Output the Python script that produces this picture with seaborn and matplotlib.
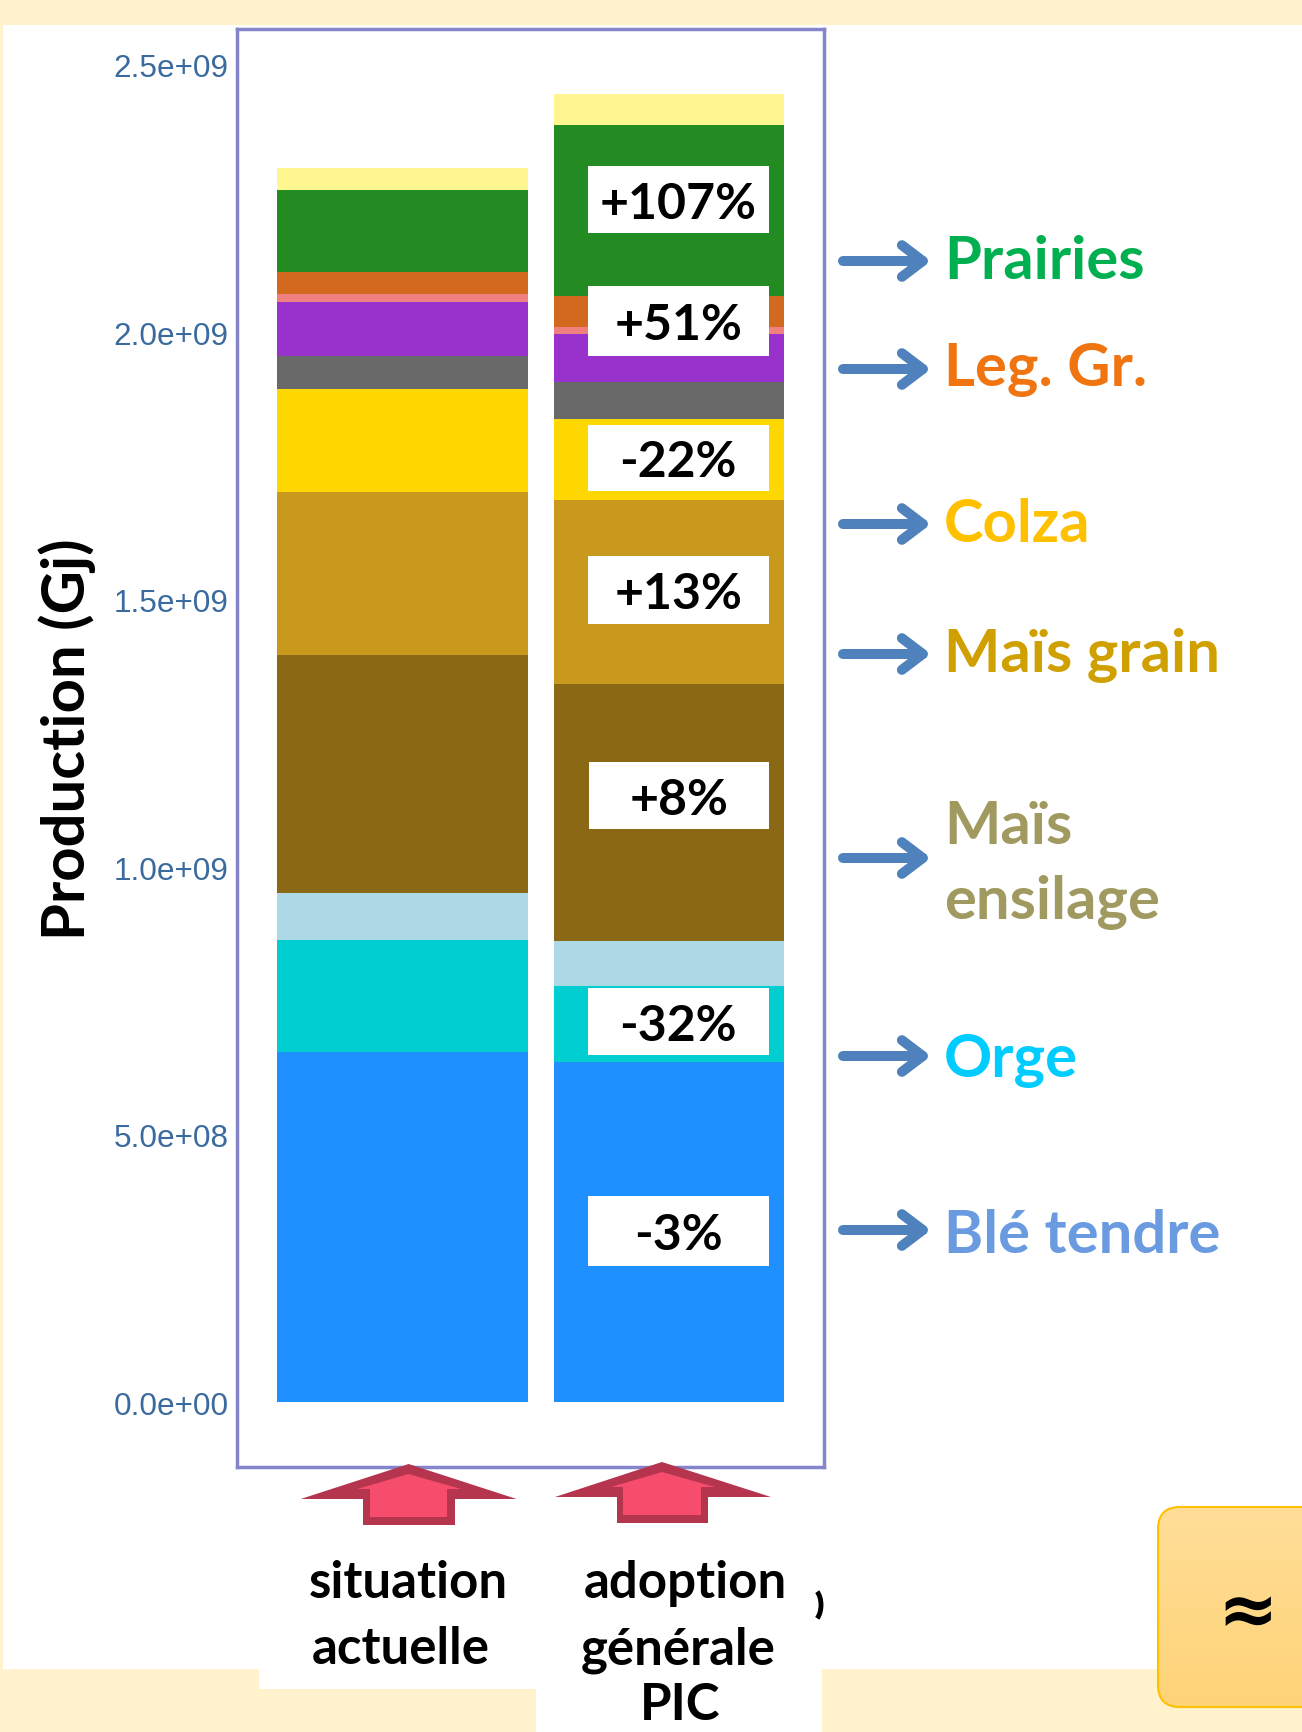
import matplotlib
matplotlib.use("Agg")
import matplotlib.pyplot as plt
from matplotlib.patches import Rectangle, Polygon, FancyBboxPatch, Arc
import numpy as np
import pandas as pd
import seaborn as sns

W, H = 1302, 1733

# cultures, du bas vers le haut de la pile
cultures = ["Blé tendre", "Orge", "Autres céréales", "Maïs ensilage", "Maïs grain", "Colza",
            "Autres oléagineux", "Betterave", "Autres", "Leg. Gr.", "Prairies", "Divers"]
situation_actuelle = [0.655e9, 0.209e9, 0.087e9, 0.446e9, 0.305e9, 0.191e9,
                      0.063e9, 0.101e9, 0.015e9, 0.040e9, 0.154e9, 0.040e9]
adoption_pic = [0.635e9, 0.142e9, 0.085e9, 0.481e9, 0.343e9, 0.151e9,
                0.070e9, 0.089e9, 0.014e9, 0.057e9, 0.321e9, 0.058e9]
couleurs = ["#1E90FF", "#00CED1", "#ADD8E6", "#8B6914", "#C9991E", "#FFD700",
            "#696969", "#9932CC", "#F08080", "#D2691E", "#228B22", "#FFF68F"]

ytick_vals = [0, 0.5e9, 1.0e9, 1.5e9, 2.0e9, 2.5e9]
ytick_labels = ["0.0e+00", "5.0e+08", "1.0e+09", "1.5e+09", "2.0e+09", "2.5e+09"]

etiquettes_pct = ["+107%", "+51%", "-22%", "+13%", "+8%", "-32%", "-3%"]
noms_droite = ["Prairies", "Leg. Gr.", "Colza", "Maïs grain", "Maïs\nensilage", "Orge", "Blé tendre"]
couleurs_droite = ["#00B050", "#F07410", "#FFC000", "#D0A000", "#A09A60", "#00CCFF", "#6A9AE0"]

sns.set_theme(style="white")
plt.rcParams["font.family"] = ["Lato", "DejaVu Sans"]

fig = plt.figure(figsize=(W / 100, H / 100), dpi=100, facecolor="#FFF2CC")

def axes_px(x0, y0, x1, y1, **kw):
    return fig.add_axes([x0 / W, 1 - y1 / H, (x1 - x0) / W, (y1 - y0) / H], **kw)

# fond blanc
bg = axes_px(0, 0, W, H, zorder=0)
bg.set_xlim(0, W)
bg.set_ylim(H, 0)
bg.axis("off")
bg.add_patch(Rectangle((3, 26), W - 3, 1644, color="white", lw=0))
bg.add_patch(Rectangle((259, 1600), 277, 90, color="white", lw=0))
bg.add_patch(Rectangle((536, 1600), 286, 133, color="white", lw=0))

# graphique
ax = axes_px(236.8, 29.8, 823.8, 1468, zorder=1)
df = pd.DataFrame({
    "x": [402] * len(cultures) + [669] * len(cultures),
    "culture": cultures * 2,
    "production": situation_actuelle + adoption_pic,
})
sns.histplot(data=df, x="x", weights="production", hue="culture", hue_order=cultures[::-1],
             multiple="stack", bins=[277, 527.5, 554, 783.6], palette=couleurs[::-1],
             alpha=1, linewidth=0, legend=False, ax=ax)
ax.set_xlim(236.8, 823.8)
ax.set_ylim(-0.1215e9, 2.567e9)
ax.set_yticks(ytick_vals, ytick_labels)
ax.set_xticks([])
ax.set_xlabel("")
ax.set_ylabel("")
ax.tick_params(axis="y", length=3, width=1, color="#7F7F7F", pad=3, labelsize=22.7, labelcolor="#3A6A9E")
for lab in ax.get_yticklabels():
    lab.set_family("Liberation Sans")
for s in ax.spines.values():
    s.set_color("#8585CC")
    s.set_linewidth(2.5)

# annotations, en pixels de l'image
ov = axes_px(0, 0, W, H, zorder=2)
ov.set_facecolor("none")
ov.axis("off")

ov.text(67, 739, "Production (Gj)", rotation=90, ha="center", va="center",
        fontsize=43, fontweight="bold", color="black")

boites = [(587.6, 166.5, 769, 234), (587.6, 287, 769, 356.7), (587.6, 425.6, 769, 491.8),
          (587.6, 557, 769, 624.5), (589, 763, 769, 830), (587.6, 989, 769, 1055.5),
          (587.6, 1197, 769, 1267)]
for (x0, y0, x1, y1), t in zip(boites, etiquettes_pct):
    ov.add_patch(Rectangle((x0, y0), x1 - x0, y1 - y0, color="white", lw=0))
    ov.text((x0 + x1) / 2, (y0 + y1) / 2 + 4, t, ha="center", va="center",
            fontsize=36, fontweight="bold", color="black")

fleches_y = [262, 370, 525, 655, 859, 1057, 1231]
textes_y = [262, 370, 525, 655, 865, 1061, 1236]
for fy, ty, nom, c in zip(fleches_y, textes_y, noms_droite, couleurs_droite):
    ov.annotate("", xy=(931, fy), xytext=(843, fy),
                arrowprops=dict(arrowstyle="->,head_length=1.25,head_width=0.95", lw=7.2,
                                color="#4F81BD", shrinkA=0, shrinkB=0))
    ov.text(944, ty, nom, ha="left", va="center", fontsize=43, fontweight="bold",
            color=c, linespacing=1.5)

# fleches rouges
def fleche_rouge(tx, ty, wl, wr, wy, sl, sr, sb, il, ir, iy, isl, isr, ib):
    ov.add_patch(Polygon([(tx, ty), (wr, wy), (sr, wy), (sr, sb), (sl, sb), (sl, wy), (wl, wy)],
                         color="#B5344E", lw=0))
    ov.add_patch(Polygon([(tx, ty + 10), (ir, iy), (isr, iy), (isr, ib), (isl, ib), (isl, iy), (il, iy)],
                         color="#F54D6B", lw=0))

fleche_rouge(408.6, 1465, 300.7, 516.6, 1500, 363, 455, 1526, 357, 461, 1490, 370, 447, 1518)
fleche_rouge(662, 1463, 555, 771, 1498, 617, 708, 1524, 611, 715, 1488, 623, 701, 1516)

for x, y, t in [(408, 1584, "situation"), (401, 1650, "actuelle"), (685, 1584, "adoption"),
                (678, 1650, "générale"), (680, 1706, "PIC")]:
    ov.text(x, y, t, ha="center", va="center", fontsize=36.7, fontweight="bold", color="black")

ov.add_patch(Arc((811, 1606), 20, 34, theta1=-65, theta2=65, color="black", lw=3.5))

# encadre en bas a droite
grad = np.linspace(0, 1, 100).reshape(-1, 1)
cmap = matplotlib.colors.LinearSegmentedColormap.from_list("o", ["#FFDE98", "#FFD478"])
boite = FancyBboxPatch((1180, 1530), 300, 156, boxstyle="round,pad=22", fc="none", ec="#FFC000", lw=1.5)
ov.add_patch(boite)
im = ov.imshow(grad, extent=(1158, W, 1708, 1508), cmap=cmap, aspect="auto", zorder=0)
im.set_clip_path(boite)
ov.text(1248, 1615, "≈", ha="center", va="center", fontsize=52, fontweight="bold", color="black",
        family="DejaVu Sans")

ov.set_xlim(0, W)
ov.set_ylim(H, 0)

fig.savefig("out.png", dpi=100, facecolor=fig.get_facecolor())
